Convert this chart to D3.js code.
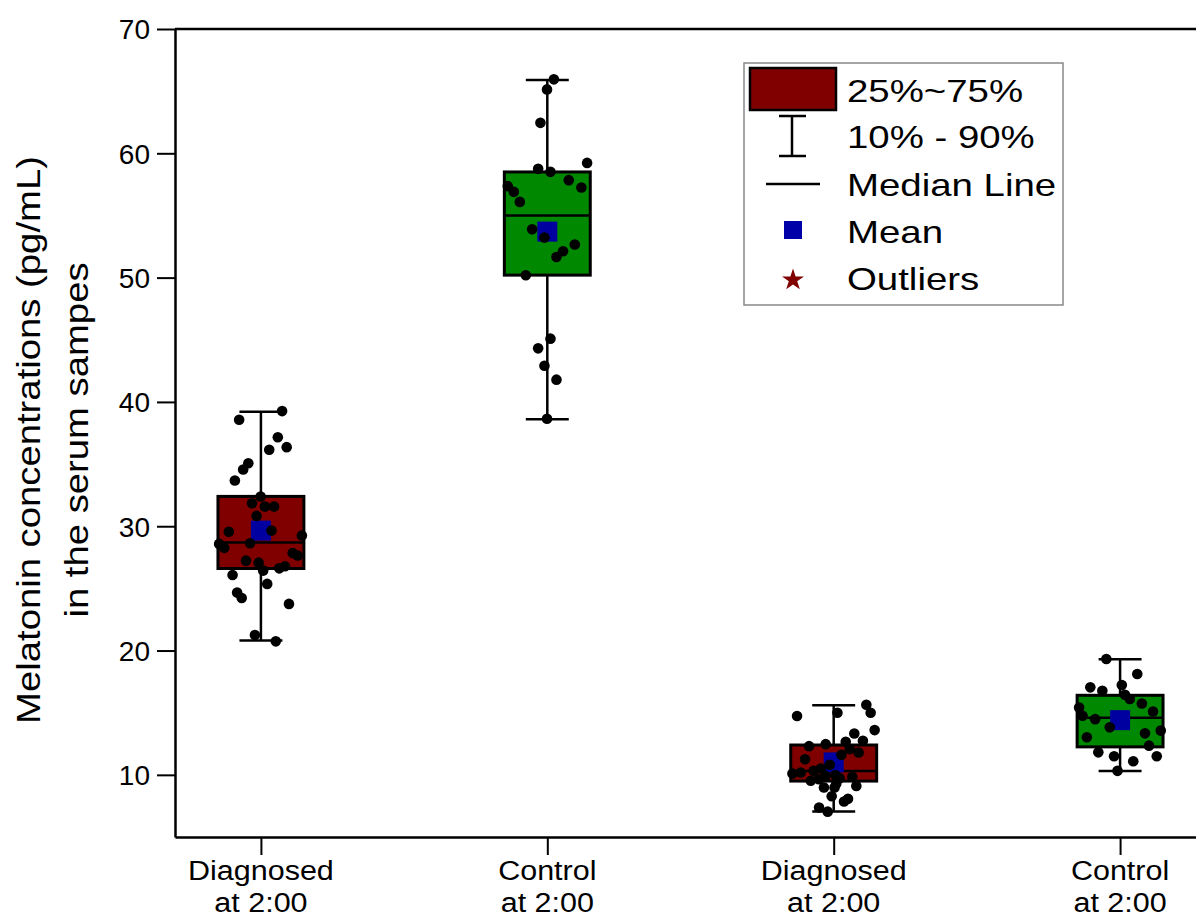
<!DOCTYPE html>
<html>
<head>
<meta charset="utf-8">
<script src="https://cdn.jsdelivr.net/npm/d3@7/dist/d3.min.js"></script>
<style>
  body { margin: 0; background: #fff; }
  text { font-family: "Liberation Sans", Arial, sans-serif; fill: #000; }
</style>
</head>
<body>
<div id="chart"></div>
<script>
// groups along the x axis
var categories = ["Diagnosed|at 2:00", "Control|at 2:00", "Diagnosed|at 2:00", "Control|at 2:00"];
var boxColors = ["#800000", "#008800", "#800000", "#008800"];

// box statistics
var p10 = [20.8, 38.6, 7.05, 10.3];
var q1 = [26.6, 50.2, 9.5, 12.25];
var median = [28.7, 55.0, 10.3, 14.6];
var q3 = [32.4, 58.5, 12.4, 16.4];
var p90 = [39.2, 65.9, 15.6, 19.3];
var means = [29.65, 53.7, 11.0, 14.4];

// raw points: value and horizontal jitter (in category units)
var values1 = [39.26, 38.57, 37.16, 36.15, 36.36, 35.07, 34.56, 33.68, 32.39, 31.85, 31.58, 31.58, 30.83, 29.55, 29.65, 29.25, 28.58, 28.26, 28.63, 27.85, 27.64, 27.23, 27.07, 26.43, 26.61, 26.78, 26.08, 25.36, 24.66, 24.23, 23.75, 21.25, 20.74];
var jitter1 = [0.074, -0.076, 0.059, 0.029, 0.090, -0.044, -0.062, -0.091, -0.001, -0.031, 0.014, 0.046, -0.015, -0.112, 0.037, 0.143, -0.146, -0.128, -0.038, 0.111, 0.128, -0.052, -0.008, 0.008, 0.064, 0.084, -0.099, 0.022, -0.083, -0.067, 0.098, -0.021, 0.052];
var values2 = [65.95, 65.14, 62.45, 59.23, 58.75, 58.51, 57.84, 57.25, 57.36, 56.90, 56.09, 53.89, 53.22, 52.66, 52.12, 51.66, 50.19, 45.09, 44.31, 42.91, 41.79, 38.65];
var jitter2 = [0.023, -0.001, -0.024, 0.139, -0.032, 0.011, 0.075, 0.119, -0.138, -0.117, -0.096, -0.053, -0.010, 0.096, 0.055, 0.032, -0.075, 0.011, -0.032, -0.010, 0.032, -0.001];
var values3 = [15.64, 14.73, 14.99, 14.99, 13.60, 13.33, 12.66, 12.74, 12.31, 12.47, 12.07, 11.80, 11.61, 11.26, 10.81, 10.10, 10.19, 10.32, 10.51, 9.92, 9.98, 9.73, 9.84, 9.52, 9.65, 9.30, 9.11, 8.98, 8.98, 8.28, 7.85, 8.07, 7.37, 7.04];
var jitter3 = [0.114, -0.128, 0.013, 0.129, 0.143, 0.072, 0.042, 0.102, -0.086, -0.028, 0.056, 0.087, 0.027, -0.100, -0.014, -0.144, -0.115, -0.070, -0.045, -0.028, 0.006, 0.021, 0.065, -0.080, -0.052, 0.009, 0.079, -0.034, 0.003, -0.007, 0.036, 0.050, -0.051, -0.021];
var values4 = [19.32, 18.11, 17.04, 16.77, 17.23, 16.44, 16.10, 15.74, 15.42, 14.75, 14.48, 15.09, 13.82, 13.56, 13.34, 13.02, 12.35, 11.81, 11.49, 11.49, 11.09, 10.32];
var jitter4 = [-0.048, 0.060, -0.104, -0.062, 0.006, 0.017, 0.034, 0.076, -0.143, -0.131, -0.087, 0.115, -0.036, 0.142, 0.087, -0.116, 0.101, -0.076, -0.021, 0.128, 0.046, -0.009];

var yTicks = [10, 20, 30, 40, 50, 60, 70];
var legendLabels = ["25%~75%", "10% - 90%", "Median Line", "Mean", "Outliers"];

(function(){
	var width = 1196, height = 918;
	var mLeft = 175, mTop = 29, mBottom = 837, mRight = 1206;
	var boxW = 0.30, capW = 0.15;

	var svg = d3.select("#chart").append("svg").attr("width", width).attr("height", height);

	var x = d3.scaleLinear().domain([0.7, 4.3]).range([mLeft, mRight]);
	var y = d3.scaleLinear().domain([5, 70]).range([mBottom, mTop]);

	// one record per group
	var groups = categories.map(function(c, i){
		return {i: i, pos: i + 1, label: c.split("|"), color: boxColors[i],
			p10: p10[i], q1: q1[i], med: median[i], q3: q3[i], p90: p90[i], mean: means[i]};
	});
	var allValues = [values1, values2, values3, values4];
	var allJitter = [jitter1, jitter2, jitter3, jitter4];
	var points = [];
	allValues.forEach(function(vals, i){
		vals.forEach(function(v, j){ points.push({pos: i + 1 + allJitter[i][j], v: v}); });
	});

	// axes
	var yAxis = svg.append("g").attr("transform", "translate(" + mLeft + ",0)")
		.call(d3.axisLeft(y).tickValues(yTicks).tickSize(18).tickSizeOuter(0).tickPadding(7));
	yAxis.selectAll("text").style("font-size", "28px").attr("dy", "0.35em");

	var xAxis = svg.append("g").attr("transform", "translate(0," + mBottom + ")")
		.call(d3.axisBottom(x).tickValues([1, 2, 3, 4]).tickSize(18).tickSizeOuter(0).tickFormat(""));

	[yAxis, xAxis].forEach(function(g){
		g.select(".domain").attr("stroke-width", 2.5);
		g.selectAll(".tick line").attr("stroke-width", 2);
	});

	// top frame line
	svg.append("line").attr("x1", mLeft).attr("x2", width).attr("y1", y(70)).attr("y2", y(70))
		.attr("stroke", "#000").attr("stroke-width", 2.5);

	// two-line category labels
	var xl = svg.append("g").selectAll("g").data(groups).enter().append("g")
		.attr("transform", function(d){ return "translate(" + x(d.pos) + ",0) scale(1.13,1)"; });
	xl.append("text").attr("y", 880).attr("text-anchor", "middle").style("font-size", "27px")
		.text(function(d){ return d.label[0]; });
	xl.append("text").attr("y", 912).attr("text-anchor", "middle").style("font-size", "27px")
		.text(function(d){ return d.label[1]; });

	// y title
	var yt = svg.append("g").attr("transform", "translate(0,440) rotate(-90)");
	yt.append("text").attr("x", 0).attr("y", 40).attr("text-anchor", "middle").attr("transform", "scale(1.16,1)")
		.style("font-size", "33px").text("Melatonin concentrations (pg/mL)");
	yt.append("text").attr("x", 0).attr("y", 88).attr("text-anchor", "middle").attr("transform", "scale(1.16,1)")
		.style("font-size", "33px").text("in the serum sampes");

	// boxes
	var g = svg.append("g");
	g.selectAll(".whisk").data(groups).enter().append("line")
		.attr("x1", function(d){ return x(d.pos); }).attr("x2", function(d){ return x(d.pos); })
		.attr("y1", function(d){ return y(d.p10); }).attr("y2", function(d){ return y(d.p90); })
		.attr("stroke", "#000").attr("stroke-width", 2.5);
	["p10", "p90"].forEach(function(k){
		g.selectAll(".cap-" + k).data(groups).enter().append("line")
			.attr("x1", function(d){ return x(d.pos - capW / 2); }).attr("x2", function(d){ return x(d.pos + capW / 2); })
			.attr("y1", function(d){ return y(d[k]); }).attr("y2", function(d){ return y(d[k]); })
			.attr("stroke", "#000").attr("stroke-width", 2.5);
	});
	g.selectAll("rect.box").data(groups).enter().append("rect")
		.attr("x", function(d){ return x(d.pos - boxW / 2); })
		.attr("width", function(d){ return x(d.pos + boxW / 2) - x(d.pos - boxW / 2); })
		.attr("y", function(d){ return y(d.q3); })
		.attr("height", function(d){ return y(d.q1) - y(d.q3); })
		.attr("fill", function(d){ return d.color; }).attr("stroke", "#000").attr("stroke-width", 3);
	g.selectAll(".med").data(groups).enter().append("line")
		.attr("x1", function(d){ return x(d.pos - boxW / 2); }).attr("x2", function(d){ return x(d.pos + boxW / 2); })
		.attr("y1", function(d){ return y(d.med); }).attr("y2", function(d){ return y(d.med); })
		.attr("stroke", "#000").attr("stroke-width", 2.5);
	g.selectAll(".mean").data(groups).enter().append("rect")
		.attr("x", function(d){ return x(d.pos) - 10; }).attr("y", function(d){ return y(d.mean) - 10; })
		.attr("width", 20).attr("height", 20).attr("fill", "#0000a0");

	// data points on top
	g.selectAll("circle").data(points).enter().append("circle")
		.attr("cx", function(d){ return x(d.pos); }).attr("cy", function(d){ return y(d.v); })
		.attr("r", 5.3).attr("fill", "#000");

	// legend
	var lg = svg.append("g");
	lg.append("rect").attr("x", 744).attr("y", 63).attr("width", 319).attr("height", 242)
		.attr("fill", "#fff").attr("stroke", "#888").attr("stroke-width", 1.5);
	lg.append("rect").attr("x", 750).attr("y", 68).attr("width", 86).attr("height", 42)
		.attr("fill", "#800000").attr("stroke", "#000").attr("stroke-width", 2.5);
	lg.append("line").attr("x1", 792).attr("x2", 792).attr("y1", 116).attr("y2", 156).attr("stroke", "#000").attr("stroke-width", 2.5);
	lg.append("line").attr("x1", 779).attr("x2", 806).attr("y1", 116).attr("y2", 116).attr("stroke", "#000").attr("stroke-width", 2.5);
	lg.append("line").attr("x1", 779).attr("x2", 806).attr("y1", 156).attr("y2", 156).attr("stroke", "#000").attr("stroke-width", 2.5);
	lg.append("line").attr("x1", 766).attr("x2", 820).attr("y1", 184).attr("y2", 184).attr("stroke", "#000").attr("stroke-width", 2.5);
	lg.append("rect").attr("x", 784).attr("y", 221).attr("width", 18).attr("height", 18).attr("fill", "#0000a8");
	lg.append("path").attr("d", d3.symbol().type(d3.symbolStar).size(150)())
		.attr("transform", "translate(793,280)").attr("fill", "#800000");
	var baselines = [102, 148, 196, 243, 290];
	lg.selectAll("text").data(legendLabels).enter().append("text")
		.attr("transform", function(d, i){ return "translate(847," + baselines[i] + ") scale(1.2,1)"; })
		.style("font-size", "32px").text(function(d){ return d; });
})();
</script>
</body>
</html>
